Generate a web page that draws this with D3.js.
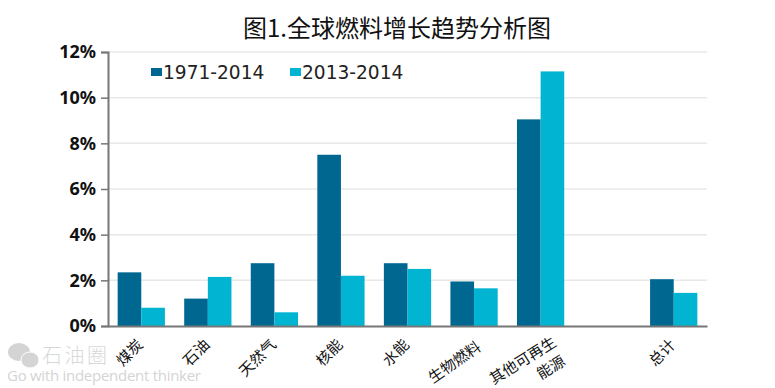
<!DOCTYPE html>
<meta charset="utf-8">
<style>
  body { margin: 0; background: #fff; }
  text { font-family: "Noto Sans CJK SC", sans-serif; }
</style>
<script src="https://d3js.org/d3.v7.min.js"></script>
<div id="chart"></div>
<script>

// data
var categories = ["煤炭", "石油", "天然气", "核能", "水能", "生物燃料", "其他可再生|能源", " ", "总计"];
var longRun = [2.35, 1.2, 2.75, 7.5, 2.75, 1.95, 9.05, null, 2.05];
var lastYear = [0.8, 2.15, 0.6, 2.2, 2.5, 1.65, 11.15, null, 1.45];
var seriesNames = ["1971-2014", "2013-2014"];
var yTicks = [0, 2, 4, 6, 8, 10, 12];
var titleText = "图1.全球燃料增长趋势分析图";
var markName = "石油圈";
var markSlogan = "Go with independent thinker";

var colors = ["#006890", "#00b4d2"];

var margin = {top: 52, right: 68, bottom: 62, left: 108},
    width = 775 - margin.left - margin.right,
    height = 388 - margin.top - margin.bottom;

var root = d3.select("#chart").append("svg")
    .attr("width", 775)
    .attr("height", 388)
    .style("display", "block");

var svg = root.append("g")
    .attr("transform", "translate(" + margin.left + "," + margin.top + ")");

var x = d3.scaleBand().domain(categories).range([0, width]).paddingInner(0.29).paddingOuter(0.145);
var xSub = d3.scaleBand().domain([0, 1]).range([0, x.bandwidth()]);
var y = d3.scaleLinear().domain([0, 12]).range([height, 0]);

// gridlines
svg.selectAll(".grid")
  .data(yTicks.filter(function (d) { return d > 0; }))
  .enter().append("line")
    .attr("class", "grid")
    .attr("x1", 0)
    .attr("x2", width)
    .attr("y1", function (d) { return y(d); })
    .attr("y2", function (d) { return y(d); })
    .attr("stroke", "#e8e8e8")
    .attr("stroke-width", 1.5);

// bars
[longRun, lastYear].forEach(function (values, s) {
  svg.selectAll(".bar" + s)
    .data(categories.map(function (c, i) { return {c: c, v: values[i]}; }).filter(function (d) { return d.v !== null; }))
    .enter().append("rect")
      .attr("class", "bar" + s)
      .attr("x", function (d) { return x(d.c) + xSub(s); })
      .attr("y", function (d) { return y(d.v); })
      .attr("width", xSub.bandwidth())
      .attr("height", function (d) { return height - y(d.v); })
      .attr("fill", colors[s]);
});

// y axis
var yAxis = svg.append("g")
    .call(d3.axisLeft(y).tickValues(yTicks).tickFormat(function (d) { return d + "%"; }).tickSize(7).tickPadding(5));
yAxis.select(".domain").attr("stroke", "#777").attr("stroke-width", 2);
yAxis.selectAll(".tick line").attr("stroke", "#777").attr("stroke-width", 1.5);
yAxis.selectAll("text")
    .style("font-family", "'Noto Sans', sans-serif")
    .style("font-size", "18px")
    .style("font-weight", "700")
    .attr("fill", "#111");

// x axis
var xAxis = svg.append("g")
    .attr("transform", "translate(0," + height + ")")
    .call(d3.axisBottom(x).tickSize(0).tickFormat(""));
xAxis.select(".domain").attr("stroke", "#777").attr("stroke-width", 2);

// the short labels sit steeper than the long ones in the picture
xAxis.selectAll(".tick").each(function (d) {
  var parts = d.split("|");
  var isLong = parts[0].length > 3;
  var dx = parts.length > 1 ? 14 : (isLong ? 5 : -1),
      dy = parts.length > 1 ? 14.5 : (isLong ? 19 : 16),
      angle = parts.length > 1 ? -32 : (isLong ? -35 : -45);
  var label = d3.select(this).append("text")
      .attr("transform", "translate(" + dx + "," + dy + ") rotate(" + angle + ")")
      .attr("text-anchor", "end")
      .attr("fill", "#111")
      .style("font-size", "15px");
  parts.forEach(function (p, i) {
    label.append("tspan")
        .attr("x", i * -2.4)
        .attr("y", i * 20.9)
        .attr("dy", "0.35em")
        .text(p);
  });
});

// title
root.append("text")
    .attr("x", 397)
    .attr("y", 37)
    .attr("text-anchor", "middle")
    .attr("fill", "#111")
    .style("font-size", "24px")
    .text(titleText);

// legend
var legendX = [151, 290];
seriesNames.forEach(function (name, i) {
  root.append("rect")
      .attr("x", legendX[i])
      .attr("y", 68)
      .attr("width", 11)
      .attr("height", 8)
      .attr("fill", colors[i]);
  root.append("text")
      .attr("x", legendX[i] + 12)
      .attr("y", 79)
      .attr("fill", "#222")
      .style("font-family", "'DejaVu Sans', sans-serif")
      .style("font-size", "18.6px")
      .text(name);
});

// watermark
var mark = root.append("g").attr("fill", "#d4d4d4");
mark.append("ellipse").attr("cx", 19).attr("cy", 352).attr("rx", 11).attr("ry", 9);
mark.append("ellipse").attr("cx", 30).attr("cy", 360).attr("rx", 9).attr("ry", 8).attr("stroke", "#fff").attr("stroke-width", 1);
root.append("text")
    .attr("x", 42)
    .attr("y", 363)
    .attr("fill", "#d8d8d8")
    .style("font-size", "20px")
    .style("font-weight", "300")
    .attr("textLength", 65)
    .text(markName);
root.append("text")
    .attr("x", 7)
    .attr("y", 381)
    .attr("fill", "#d4d4d4")
    .style("font-family", "'Open Sans', sans-serif")
    .style("font-size", "15px")
    .attr("textLength", 194)
    .text(markSlogan);

</script>
